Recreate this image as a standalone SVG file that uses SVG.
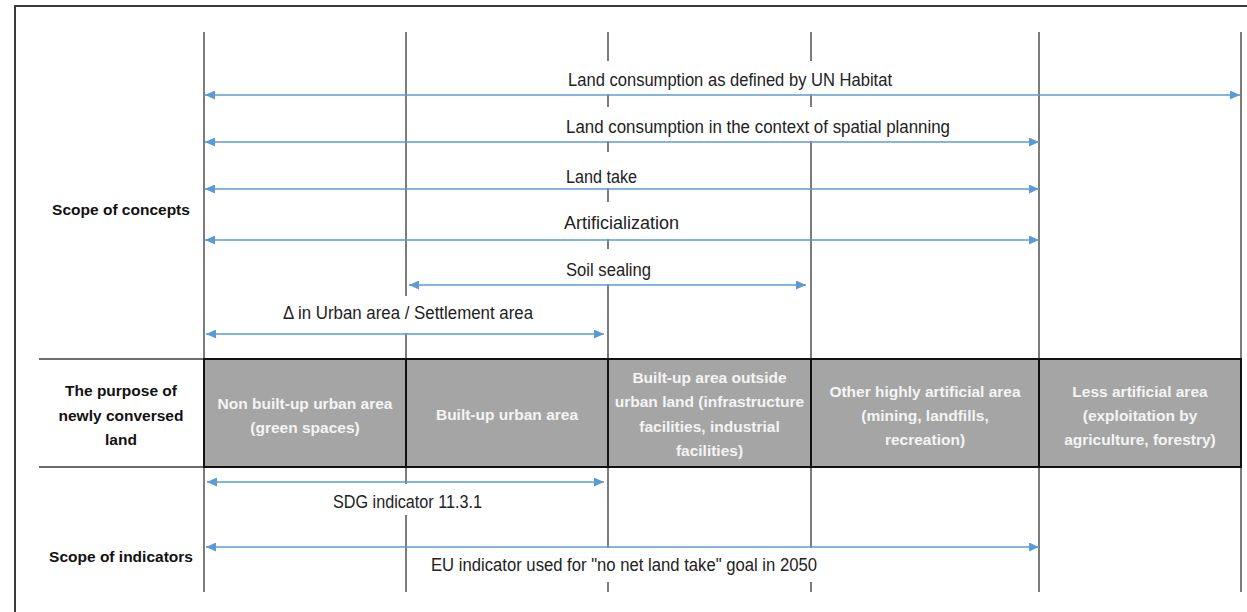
<svg xmlns="http://www.w3.org/2000/svg" width="1247" height="612" viewBox="0 0 1247 612">
<style>
  .grid { stroke: #6e6e6e; stroke-width: 1.8; fill: none; }
  .mask { fill: #ffffff; stroke: none; }
  .arrow { stroke: #5b9bd5; stroke-width: 1.4; fill: none; marker-start: url(#ah); marker-end: url(#ah); }
  .lbl { font-family: "Liberation Sans", Arial, sans-serif; font-size: 17.5px; fill: #222222; }
  .side { font-family: "Liberation Sans", Arial, sans-serif; font-size: 15.5px; font-weight: bold; fill: #111111; text-anchor: middle; }
  .cell { fill: #a5a5a5; stroke: #111111; stroke-width: 2; }
  .ctext { font-family: "Liberation Sans", Arial, sans-serif; font-size: 15.5px; font-weight: bold; fill: #f4f4f4; text-anchor: middle; }
</style>
<defs>
  <marker id="ah" markerUnits="userSpaceOnUse" markerWidth="11" markerHeight="9" refX="10" refY="4.5" orient="auto-start-reverse" viewBox="0 0 11 9">
    <path d="M0,0 L10,4.5 L0,9 Z" fill="#5b9bd5"/>
  </marker>
</defs>
<rect x="0" y="0" width="1247" height="612" fill="#ffffff"/>
<path d="M15,612 V6 H1247" fill="none" stroke="#3a3a3a" stroke-width="2"/>

<g id="grid">
  <line class="grid" x1="204" y1="32" x2="204" y2="592"/>
  <line class="grid" x1="406" y1="32" x2="406" y2="592"/>
  <line class="grid" x1="608" y1="32" x2="608" y2="592"/>
  <line class="grid" x1="811" y1="32" x2="811" y2="592"/>
  <line class="grid" x1="1039" y1="32" x2="1039" y2="592"/>
  <line class="grid" x1="1241" y1="32" x2="1241" y2="592"/>
  <line class="grid" x1="39" y1="359" x2="204" y2="359"/>
  <line class="grid" x1="39" y1="467" x2="204" y2="467"/>
</g>

<g id="label-masks">
  <rect class="mask" x="562" y="61" width="336" height="33"/>
  <rect class="mask" x="560" y="107" width="396" height="34"/>
  <rect class="mask" x="560" y="152" width="83" height="36"/>
  <rect class="mask" x="558" y="202" width="127" height="37"/>
  <rect class="mask" x="560" y="249" width="97" height="35"/>
  <rect class="mask" x="277" y="296" width="262" height="37"/>
  <rect class="mask" x="327" y="484" width="161" height="31"/>
  <rect class="mask" x="425" y="548" width="398" height="34"/>
</g>

<g id="side-labels">
  <g id="scope-concepts"><text class="side" x="121" y="215">Scope of concepts</text></g>
  <g id="purpose">
    <text class="side" x="121" y="396">The purpose of</text>
    <text class="side" x="121" y="421">newly conversed</text>
    <text class="side" x="121" y="445">land</text>
  </g>
  <g id="scope-indicators"><text class="side" x="121" y="562">Scope of indicators</text></g>
</g>

<g id="band">
  <g id="cell-nonbuilt">
    <rect class="cell" x="204" y="359" width="202" height="108"/>
    <text class="ctext" x="305" y="409">Non built-up urban area</text>
    <text class="ctext" x="305" y="433">(green spaces)</text>
  </g>
  <g id="cell-builtup">
    <rect class="cell" x="406" y="359" width="202" height="108"/>
    <text class="ctext" x="507" y="420">Built-up urban area</text>
  </g>
  <g id="cell-outside">
    <rect class="cell" x="608" y="359" width="203" height="108"/>
    <text class="ctext" x="709.5" y="383">Built-up area outside</text>
    <text class="ctext" x="709.5" y="407">urban land (infrastructure</text>
    <text class="ctext" x="709.5" y="432">facilities, industrial</text>
    <text class="ctext" x="709.5" y="456">facilities)</text>
  </g>
  <g id="cell-other">
    <rect class="cell" x="811" y="359" width="228" height="108"/>
    <text class="ctext" x="925" y="397">Other highly artificial area</text>
    <text class="ctext" x="925" y="421">(mining, landfills,</text>
    <text class="ctext" x="925" y="445">recreation)</text>
  </g>
  <g id="cell-less">
    <rect class="cell" x="1039" y="359" width="202" height="108"/>
    <text class="ctext" x="1140" y="397">Less artificial area</text>
    <text class="ctext" x="1140" y="421">(exploitation by</text>
    <text class="ctext" x="1140" y="445">agriculture, forestry)</text>
  </g>
</g>

<g id="connectors">
  <line class="arrow" x1="205" y1="95" x2="1240" y2="95"/>
  <line class="arrow" x1="205" y1="142" x2="1039" y2="142"/>
  <line class="arrow" x1="205" y1="189" x2="1039" y2="189"/>
  <line class="arrow" x1="205" y1="240" x2="1039" y2="240"/>
  <line class="arrow" x1="409" y1="285" x2="806" y2="285"/>
  <line class="arrow" x1="206" y1="334" x2="604" y2="334"/>
  <line class="arrow" x1="207" y1="482" x2="604" y2="482"/>
  <line class="arrow" x1="206" y1="547" x2="1039" y2="547"/>
</g>

<g id="connector-labels">
  <text class="lbl" x="568" y="86" textLength="324" lengthAdjust="spacingAndGlyphs">Land consumption as defined by UN Habitat</text>
  <text class="lbl" x="566" y="133" textLength="384" lengthAdjust="spacingAndGlyphs">Land consumption in the context of spatial planning</text>
  <text class="lbl" x="566" y="183" textLength="71" lengthAdjust="spacingAndGlyphs">Land take</text>
  <text class="lbl" x="564" y="229" textLength="115" lengthAdjust="spacingAndGlyphs">Artificialization</text>
  <text class="lbl" x="566" y="276" textLength="85" lengthAdjust="spacingAndGlyphs">Soil sealing</text>
  <text class="lbl" x="283" y="319" textLength="250" lengthAdjust="spacingAndGlyphs">Δ in Urban area / Settlement area</text>
  <text class="lbl" x="333" y="508" textLength="149" lengthAdjust="spacingAndGlyphs">SDG indicator 11.3.1</text>
  <text class="lbl" x="431" y="571" textLength="386" lengthAdjust="spacingAndGlyphs">EU indicator used for "no net land take" goal in 2050</text>
</g>
</svg>
